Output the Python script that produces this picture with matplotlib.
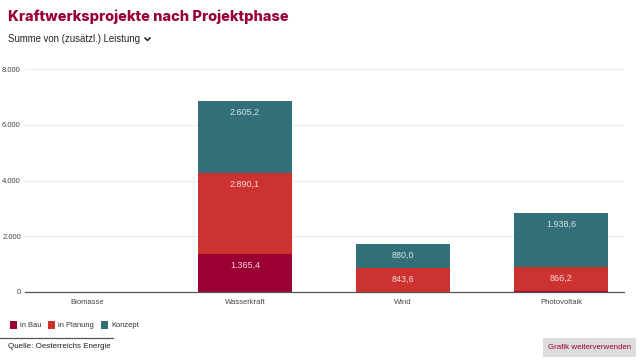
import matplotlib
matplotlib.use("Agg")
import matplotlib.pyplot as plt
import numpy as np
from matplotlib.lines import Line2D
from matplotlib.patches import Rectangle

plt.rcParams['font.family'] = ['Liberation Sans', 'DejaVu Sans']

categories = ['Biomasse', 'Wasserkraft', 'Wind', 'Photovoltaik']
series = ['in Bau', 'in Planung', 'Konzept']
in_bau = [0, 1365.4, 0, 25]
in_planung = [0, 2890.1, 843.6, 866.2]
konzept = [0, 2605.2, 880.0, 1938.6]
yticks = [0, 2000, 4000, 6000, 8000]
ytick_labels = ['0', '2.000', '4.000', '6.000', '8.000']

colors = ['#9b0034', '#cc3330', '#336f78']
label_colors = ['#f3d6dc', '#f6d8d6', '#d8e6e8']

fig = plt.figure(figsize=(6.4, 3.6), dpi=100)
W, H = 640, 360

def fx(px):
    return px / W

def fy(py):
    return 1 - py / H

ax = fig.add_axes([fx(25), fy(292), fx(624) - fx(25), fy(69) - fy(292)])

x = np.arange(len(categories))
width = 0.6
bottom = np.zeros(len(categories))
bars = []
for vals, col, lcol in zip([in_bau, in_planung, konzept], colors, label_colors):
    vals = np.array(vals, dtype=float)
    b = ax.bar(x, vals, width, bottom=bottom, color=col, zorder=3)
    bars.append(b)
    for xi, v, bt in zip(x, vals, bottom):
        if v >= 300:
            txt = f"{v:,.1f}".replace(',', 'X').replace('.', ',').replace('X', '.')
            ax.annotate(txt, (xi, bt + v), xytext=(0, -8), textcoords='offset points',
                        ha='center', va='center', fontsize=6.5, color=lcol, zorder=4)
    bottom = bottom + vals

ax.set_ylim(0, 8000)
ax.set_xlim(-0.392, 3.399)
ax.set_yticks(yticks)
ax.set_yticklabels(ytick_labels)
ax.set_xticks(x)
ax.set_xticklabels(categories)
ax.tick_params(axis='y', length=0, labelsize=5.5, labelcolor='#444444', pad=3)
ax.tick_params(axis='x', length=0, labelsize=5.5, labelcolor='#444444', pad=5)
ax.grid(axis='y', color='#ececec', linewidth=0.8, zorder=0)
for s in ['top', 'right', 'left']:
    ax.spines[s].set_visible(False)
ax.spines['bottom'].set_color('#555555')
ax.spines['bottom'].set_linewidth(0.9)
ax.spines['bottom'].set_zorder(5)

# title and subtitle
fig.text(fx(8), fy(17), 'Kraftwerksprojekte nach Projektphase', family=['Inter', 'DejaVu Sans'],
         fontweight='heavy', fontsize=10.5, color='#99003a', va='center', ha='left')
fig.text(fx(8), fy(39), 'Summe von (zusätzl.) Leistung', fontsize=6.9, color='#222222',
         va='center', ha='left')
fig.add_artist(Line2D([fx(145), fx(147.5), fx(150)], [fy(38), fy(40.5), fy(38)],
                      color='#222222', linewidth=1.1))

# legend
fig.legend(handles=[b.patches[1] for b in bars], labels=series, loc='center left',
           bbox_to_anchor=(fx(3), fy(325)), ncol=3, frameon=False, fontsize=5.4,
           handlelength=0.95, handleheight=1.3, handletextpad=0.4, columnspacing=0.9,
           labelcolor='#333333')

# source
fig.add_artist(Line2D([0, fx(113)], [fy(338), fy(338)], color='#555555', linewidth=0.9))
fig.text(fx(8), fy(347), 'Quelle: Oesterreichs Energie', fontsize=5.8, color='#222222',
         va='center', ha='left')
fig.add_artist(Rectangle((fx(543), fy(357)), fx(636) - fx(543), fy(338) - fy(357),
                         transform=fig.transFigure, facecolor='#dcdcdc', edgecolor='none'))
fig.text(fx(589.5), fy(347.5), 'Grafik weiterverwenden', fontsize=5.7, color='#99003a',
         va='center', ha='center')

fig.savefig('out.png', dpi=100)
